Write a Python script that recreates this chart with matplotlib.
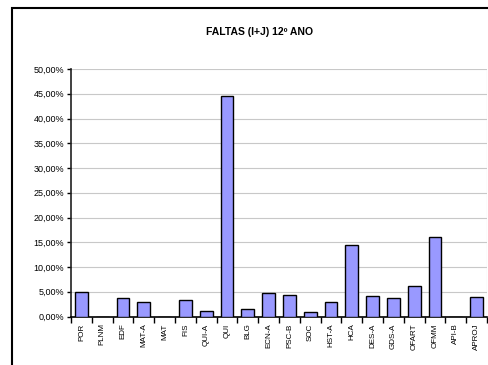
import matplotlib
matplotlib.use("Agg")
import matplotlib.pyplot as plt
from matplotlib.patches import Rectangle
from matplotlib.ticker import FuncFormatter, FixedLocator

# Data
subjects = ["POR", "PLNM", "EDF", "MAT-A", "MAT", "FIS", "QUI-A", "QUI", "BLG",
            "ECN-A", "PSC-B", "SOC", "HST-A", "HCA", "DES-A", "GDS-A", "OFART",
            "OFMM", "API-B", "APROJ"]
faltas = [5.0, 0.0, 3.7, 2.9, 0.0, 3.3, 1.05, 44.6, 1.6,
          4.8, 4.3, 0.85, 2.9, 14.5, 4.1, 3.8, 6.1,
          16.0, 0.0, 3.9]

plt.rcParams['font.family'] = ['Liberation Sans', 'DejaVu Sans']

fig = plt.figure(figsize=(4.88, 3.65), dpi=100)
ax = fig.add_axes([71/488, 1 - 316.5/365, 416/488, 247.5/365])

x = list(range(len(subjects)))
ax.bar(x, faltas, width=0.62, color="#9999ff", edgecolor="black", linewidth=1.0, zorder=3)

ax.set_xlim(-0.5, len(subjects) - 0.5)
ax.set_ylim(0, 50)
ax.set_yticks([0, 5, 10, 15, 20, 25, 30, 35, 40, 45, 50])
ax.yaxis.set_major_formatter(FuncFormatter(lambda v, p: ("%.2f%%" % v).replace(".", ",")))
ax.grid(axis="y", color="#c8c8c8", linewidth=0.8, zorder=0)

# ticks between categories, labels at centres
ax.set_xticks(x)
ax.set_xticklabels(subjects, rotation=90, fontsize=5.8)
ax.xaxis.set_minor_locator(FixedLocator([i - 0.5 for i in range(len(subjects) + 1)]))
ax.tick_params(axis="x", which="major", length=0, pad=5)
ax.tick_params(axis="x", which="minor", length=4, width=1, color="black", direction="out")
ax.tick_params(axis="y", length=3, width=1, labelsize=6.5, pad=2, direction="out")

for side in ["top", "right"]:
    ax.spines[side].set_visible(False)
ax.spines["left"].set_color("#202020")
ax.spines["left"].set_linewidth(1.2)
ax.spines["bottom"].set_color("black")
ax.spines["bottom"].set_linewidth(1.2)
ax.axvline(len(subjects) - 0.5, color="#c8c8c8", linewidth=0.8)

fig.text(259/488, 1 - 32/365, "FALTAS (I+J) 12º ANO", ha="center", va="center",
         fontsize=7.5, fontweight="bold")

# outer chart border (runs past right and bottom edges)
fig.patches.append(Rectangle((12/488, -0.1), 1.0, 1 - 8/365 + 0.1, transform=fig.transFigure,
                             fill=False, edgecolor="black", linewidth=1.5, clip_on=False))

fig.savefig("out.png", dpi=100)
